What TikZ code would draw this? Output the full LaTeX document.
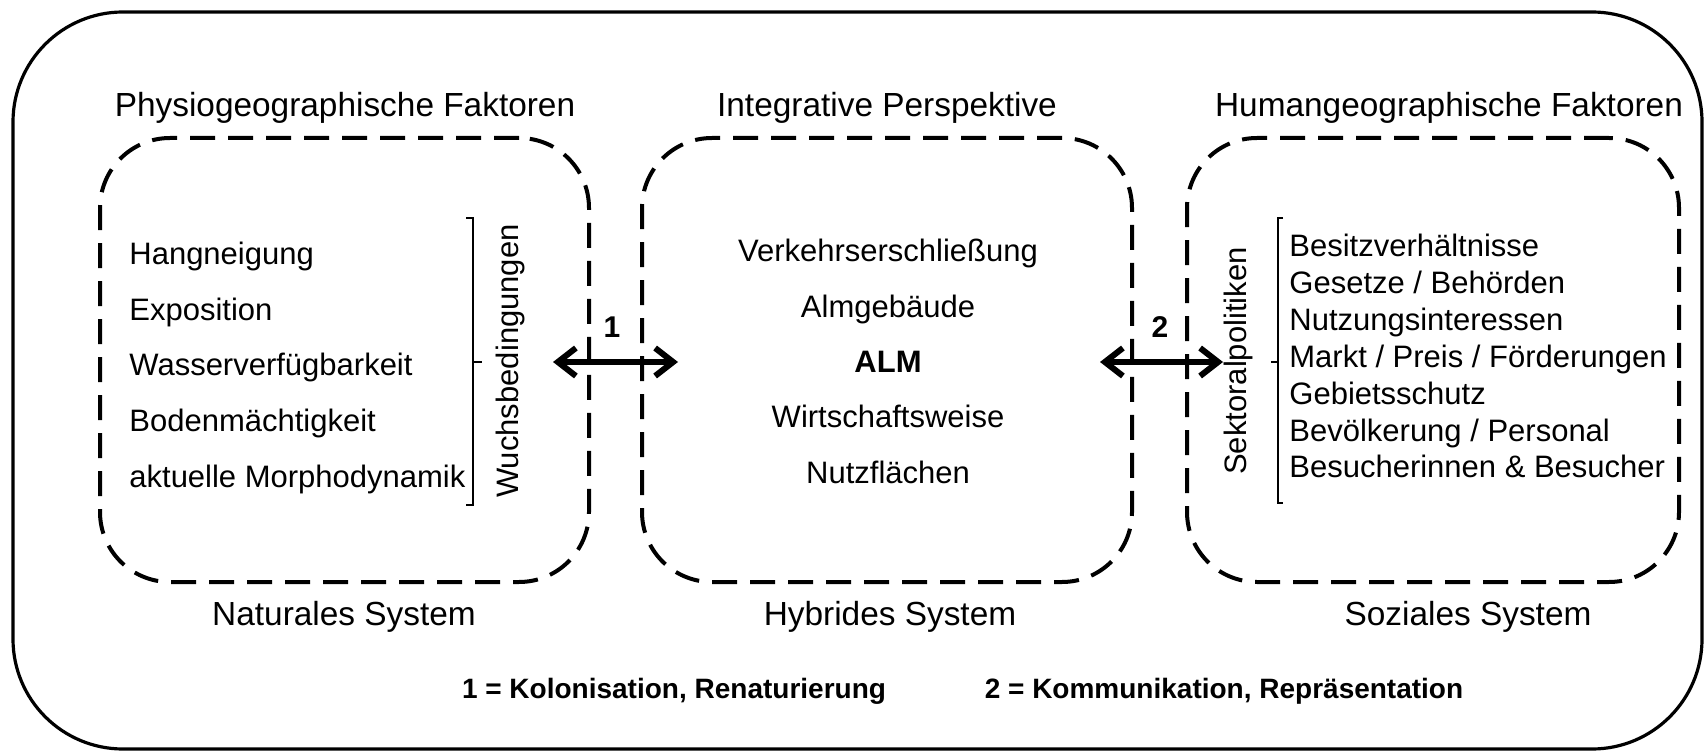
\documentclass[tikz,border=0pt]{standalone}
\usepackage{fontspec}
\setmainfont{Liberation Sans}
\usetikzlibrary{arrows.meta}
\begin{document}
\begin{tikzpicture}[x=0.5pt,y=-0.5pt,
  outerbox/.style={draw, line width=1.6pt, rounded corners=55pt, inner sep=0pt},
  dbox/.style={draw, line width=2pt, dash pattern=on 12.5pt off 6.5pt, rounded corners=35pt, inner sep=0pt, minimum height=222pt},
  body/.style={inner sep=0pt, font=\fontsize{15.5}{18}\selectfont},
  lbody/.style={body, anchor=base west},
  cbody/.style={body, anchor=base},
  title/.style={inner sep=0pt, anchor=base, font=\fontsize{16.7}{20}\selectfont},
  legend/.style={inner sep=0pt, anchor=base, font=\bfseries\fontsize{14}{17}\selectfont},
  numlabel/.style={inner sep=0pt, anchor=base, font=\bfseries\fontsize{15}{18}\selectfont},
  bracket/.style={line width=0.7pt},
  biarrow/.style={line width=3pt, {Straight Barb[length=9pt,width=14pt]}-{Straight Barb[length=9pt,width=14pt]}}
]
\useasboundingbox (0,0) rectangle (1707,753);
\node[outerbox, minimum width=844.5pt, minimum height=368.5pt] (outer) at (857.5,380.5) {};

% dashed system boxes
\node[dbox, minimum width=244.5pt] (nat) at (344.5,360) {};
\node[dbox, minimum width=245pt] (hyb) at (887,360) {};
\node[dbox, minimum width=246pt] (soz) at (1433,360) {};

% titles
\node[title] (tphys) at (345,117) {Physiogeographische Faktoren};
\node[title] (tint) at (887,117) {Integrative Perspektive};
\node[title] (thum) at (1449,117) {Humangeographische Faktoren};

% footers
\node[title] (fnat) at (344,625) {Naturales System};
\node[title] (fhyb) at (890,625) {Hybrides System};
\node[title] (fsoz) at (1468,625) {Soziales System};

% left list
\node[lbody] (l1) at (129,265) {Hangneigung};
\node[lbody] (l2) at (129,320.5) {Exposition};
\node[lbody] (l3) at (129,376) {Wasserverfügbarkeit};
\node[lbody] (l4) at (129,431.5) {Bodenmächtigkeit};
\node[lbody] (l5) at (129,487) {aktuelle Morphodynamik};
\draw[bracket] (466,218) -- (473,218) -- (473,505) -- (466,505);
\draw[bracket] (473,362) -- (482,362);
\node[body, rotate=90] (wuchs) at (510,361) {Wuchsbedingungen};

% middle list
\node[cbody] (m1) at (888,262) {Verkehrserschließung};
\node[cbody] (m2) at (888,317.25) {Almgebäude};
\node[cbody, font=\fontsize{15.5}{18}\selectfont\bfseries] (m3) at (888,372.5) {ALM};
\node[cbody] (m4) at (888,427.75) {Wirtschaftsweise};
\node[cbody] (m5) at (888,483) {Nutzflächen};

% right list
\node[body, rotate=90] (sekt) at (1238,361) {Sektoralpolitiken};
\draw[bracket] (1283,218) -- (1278,218) -- (1278,503) -- (1283,503);
\draw[bracket] (1278,362) -- (1271,362);
\node[lbody] (r1) at (1289,257) {Besitzverhältnisse};
\node[lbody] (r2) at (1289,293.8) {Gesetze / Behörden};
\node[lbody] (r3) at (1289,330.6) {Nutzungsinteressen};
\node[lbody] (r4) at (1289,367.4) {Markt / Preis / Förderungen};
\node[lbody] (r5) at (1289,404.2) {Gebietsschutz};
\node[lbody] (r6) at (1289,441) {Bevölkerung / Personal};
\node[lbody] (r7) at (1289,477.8) {Besucherinnen \& Besucher};

% arrows
\coordinate (a1l) at (553,362);
\coordinate (a1r) at (678,362);
\coordinate (a2l) at (1100,362);
\coordinate (a2r) at (1223,362);
\draw[biarrow] (a1l) -- (a1r);
\draw[biarrow] (a2l) -- (a2r);
\node[numlabel] (n1) at (612,338) {1};
\node[numlabel] (n2) at (1160,338) {2};

% legend
\node[legend] (leg1) at (674,698) {1 = Kolonisation, Renaturierung};
\node[legend] (leg2) at (1224,698) {2 = Kommunikation, Repräsentation};
\end{tikzpicture}
\end{document}
